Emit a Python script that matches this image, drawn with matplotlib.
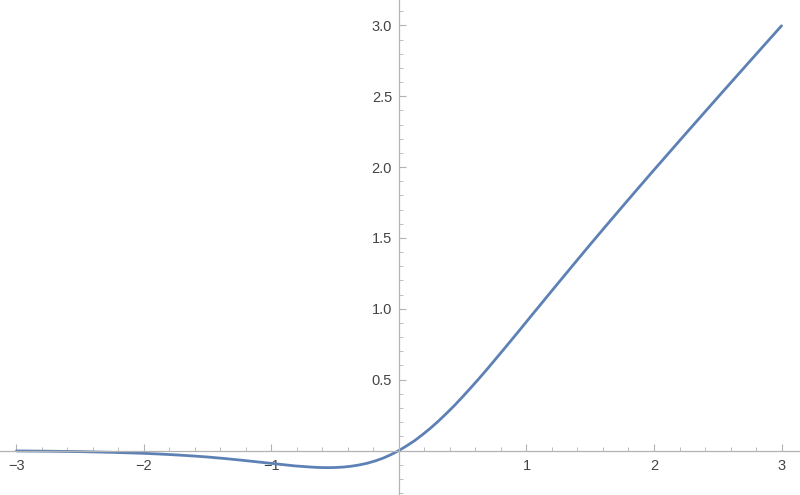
import matplotlib.pyplot as plt
from matplotlib.ticker import MultipleLocator, FixedLocator

# values
x_vals = [-3.0, -2.75, -2.5, -2.25, -2.0, -1.875, -1.75, -1.625, -1.5, -1.375, -1.25,
          -1.125, -1.0, -0.9375, -0.875, -0.8125, -0.75, -0.6875, -0.625, -0.5625,
          -0.5, -0.4375, -0.375, -0.3125, -0.25, -0.1875, -0.125, -0.0625, 0.0,
          0.0625, 0.125, 0.1875, 0.25, 0.3125, 0.375, 0.4375, 0.5, 0.5625, 0.625,
          0.6875, 0.75, 0.8125, 0.875, 0.9375, 1.0, 1.0625, 1.125, 1.1875, 1.25,
          1.375, 1.5, 1.625, 1.75, 1.875, 2.0, 2.25, 2.5, 2.75, 3.0]
y_vals = [-0.003, -0.005, -0.008, -0.013, -0.020, -0.025, -0.031, -0.038, -0.046, -0.056, -0.067,
          -0.079, -0.091, -0.097, -0.103, -0.109, -0.113, -0.117, -0.120, -0.121,
          -0.120, -0.117, -0.111, -0.102, -0.090, -0.074, -0.054, -0.029, 0.0,
          0.034, 0.071, 0.114, 0.160, 0.210, 0.264, 0.320, 0.380, 0.442, 0.505,
          0.570, 0.637, 0.704, 0.772, 0.840, 0.909, 0.978, 1.046, 1.115, 1.183,
          1.319, 1.454, 1.587, 1.719, 1.850, 1.980, 2.237, 2.492, 2.745, 2.997]
x_ticks = [-3, -2, -1, 1, 2, 3]
x_labels = ['\u22123', '\u22122', '\u22121', '1', '2', '3']
y_ticks = [0.5, 1.0, 1.5, 2.0, 2.5, 3.0]
y_labels = ['0.5', '1.0', '1.5', '2.0', '2.5', '3.0']

plt.rcParams['font.family'] = ['Liberation Sans', 'DejaVu Sans']

fig = plt.figure(figsize=(8, 4.95), dpi=100)
ax = fig.add_axes([0, 0, 1, 1])

ax.plot(x_vals, y_vals, color='#5E81B5', linewidth=2.0,
        solid_capstyle='round', solid_joinstyle='round')

ax.set_xlim(-3.129, 3.145)
ax.set_ylim(-0.314, 3.179)

# Mathematica-style axes crossing at the origin
axis_col = '#b3b3b3'
for side in ['top', 'right']:
    ax.spines[side].set_visible(False)
for side in ['left', 'bottom']:
    ax.spines[side].set_position(('data', 0))
    ax.spines[side].set_color(axis_col)
    ax.spines[side].set_linewidth(0.9)

ax.xaxis.set_major_locator(FixedLocator(x_ticks))
ax.xaxis.set_minor_locator(MultipleLocator(0.2))
ax.yaxis.set_major_locator(FixedLocator(y_ticks))
ax.yaxis.set_minor_locator(MultipleLocator(0.1))
ax.set_xticklabels(x_labels)
ax.set_yticklabels(y_labels)

ax.tick_params(axis='both', which='major', direction='in', length=5, width=0.8,
               color=axis_col, labelcolor='#444444', labelsize=10.5)
ax.tick_params(axis='both', which='minor', direction='in', length=3, width=0.6,
               color=axis_col)
ax.tick_params(axis='x', which='major', pad=6)
ax.tick_params(axis='y', which='major', pad=5)

fig.savefig('out.png', dpi=100)
